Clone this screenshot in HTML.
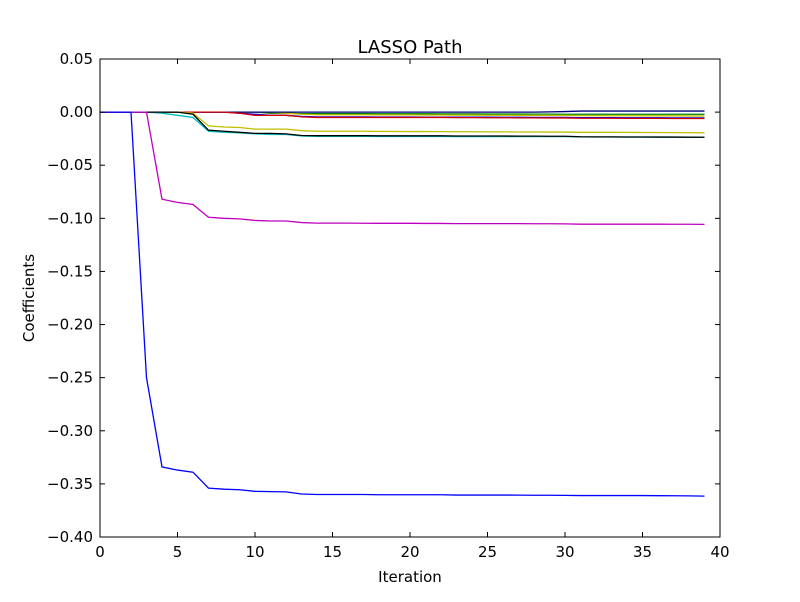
<!DOCTYPE html>
<html><head><meta charset="utf-8"><style>
body{margin:0;background:#fff}
svg text{font-family:"DejaVu Sans","Liberation Sans",sans-serif;font-size:15px;fill:#000}
</style></head><body>
<svg id="c" width="800" height="597">
<rect x="0" y="0" width="800" height="597" fill="#fff"/>
<g id="plot"></g>
</svg>
<script>
const xTicks=[0,5,10,15,20,25,30,35,40];
const yTicks=[0.05,0.00,-0.05,-0.10,-0.15,-0.20,-0.25,-0.30,-0.35,-0.40];
const sBlue=[0,0,0,-0.25,-0.334,-0.337,-0.339,-0.354,-0.355,-0.3555,-0.357,-0.3573,-0.3575,-0.3595,-0.360,-0.360,-0.360,-0.360,-0.3602,-0.3602,-0.3602,-0.3602,-0.3602,-0.3605,-0.3605,-0.3605,-0.3605,-0.3606,-0.3607,-0.3607,-0.3608,-0.361,-0.361,-0.361,-0.361,-0.361,-0.3611,-0.3612,-0.3613,-0.3615];
const sMagenta=[0,0,0,0,-0.082,-0.085,-0.087,-0.099,-0.100,-0.1005,-0.102,-0.1025,-0.1025,-0.104,-0.1045,-0.1045,-0.1045,-0.1046,-0.1047,-0.1047,-0.1047,-0.1048,-0.1048,-0.105,-0.105,-0.105,-0.105,-0.105,-0.1051,-0.1051,-0.1052,-0.1055,-0.1055,-0.1055,-0.1055,-0.1055,-0.1055,-0.1056,-0.1056,-0.1057];
const sYellow=[0,0,0,0,0,0,-0.001,-0.013,-0.014,-0.0145,-0.016,-0.016,-0.016,-0.0175,-0.018,-0.018,-0.018,-0.018,-0.0182,-0.0182,-0.0183,-0.0183,-0.0184,-0.0185,-0.0185,-0.0186,-0.0186,-0.0187,-0.0187,-0.0188,-0.0188,-0.019,-0.019,-0.019,-0.0191,-0.0192,-0.0192,-0.0193,-0.0194,-0.0195];
const sCyan=[0,0,0,0,-0.001,-0.003,-0.005,-0.018,-0.019,-0.0195,-0.0205,-0.021,-0.021,-0.0225,-0.0228,-0.0228,-0.0228,-0.0228,-0.0229,-0.0229,-0.0229,-0.0229,-0.0229,-0.023,-0.023,-0.023,-0.023,-0.023,-0.0231,-0.0231,-0.0231,-0.0233,-0.0234,-0.0234,-0.0235,-0.0235,-0.0235,-0.0236,-0.0236,-0.0237];
const sBlack=[0,0,0,0,0,0,-0.002,-0.017,-0.018,-0.019,-0.020,-0.020,-0.0205,-0.022,-0.0222,-0.0222,-0.0222,-0.0222,-0.0223,-0.0223,-0.0223,-0.0223,-0.0223,-0.0225,-0.0225,-0.0225,-0.0225,-0.0226,-0.0226,-0.0227,-0.0227,-0.0232,-0.0233,-0.0233,-0.0234,-0.0234,-0.0235,-0.0235,-0.0236,-0.0237];
const sRed=[0,0,0,0,0,0,0,0,0,-0.001,-0.003,-0.003,-0.003,-0.0045,-0.005,-0.005,-0.005,-0.005,-0.005,-0.005,-0.005,-0.005,-0.005,-0.0052,-0.0052,-0.0053,-0.0053,-0.0054,-0.0054,-0.0055,-0.0055,-0.0058,-0.0058,-0.0058,-0.0059,-0.0059,-0.0059,-0.006,-0.006,-0.006];
const sBlue2=[0,0,0,0,0,0,0,0,0,-0.001,-0.002,-0.003,-0.003,-0.004,-0.0045,-0.0045,-0.0045,-0.0045,-0.0046,-0.0046,-0.0046,-0.0047,-0.0047,-0.0048,-0.0048,-0.0048,-0.0049,-0.0049,-0.005,-0.005,-0.005,-0.0052,-0.0052,-0.0052,-0.0053,-0.0053,-0.0053,-0.0054,-0.0054,-0.0055];
const sGreen=[0,0,0,0,0,0,0,0,0,0,0,-0.001,-0.001,-0.0015,-0.0015,-0.0015,-0.0015,-0.0015,-0.0016,-0.0016,-0.0016,-0.0016,-0.0017,-0.0017,-0.0017,-0.0018,-0.0018,-0.0018,-0.0019,-0.0019,-0.002,-0.002,-0.002,-0.002,-0.002,-0.002,-0.002,-0.002,-0.002,-0.002];
const sOlive=[0,0,0,0,0,0,0,0,0,0,0,0,-0.001,-0.002,-0.0025,-0.0025,-0.0025,-0.0025,-0.0026,-0.0026,-0.0026,-0.0027,-0.0027,-0.0028,-0.0028,-0.0029,-0.0029,-0.003,-0.003,-0.0031,-0.0031,-0.0033,-0.0033,-0.0034,-0.0034,-0.0035,-0.0035,-0.0035,-0.0036,-0.0036];
const sNavy=[0,0,0,0,0,0,0,0,0,0,0,0,0,0,0,0,0,0,0,0,0,0,0,0,0,0,0,0,0,0.0002,0.0005,0.001,0.001,0.001,0.001,0.001,0.001,0.001,0.001,0.001];
const series=[[sGreen,'#008000'],[sOlive,'#bfbf00'],[sNavy,'#000080'],[sBlue2,'#0000ff'],[sRed,'#d00000'],[sYellow,'#bfbf00'],[sCyan,'#00bfbf'],[sBlack,'#000000'],[sMagenta,'#bf00bf'],[sBlue,'#0000ff']];
const L=100,R=720,T=59,B=537;
const X=v=>L+(v-0)/(40-0)*(R-L);
const Y=v=>T+(0.05-v)/(0.05+0.40)*(B-T);
const ns='http://www.w3.org/2000/svg';
const g=document.getElementById('plot');
function mk(t,a){const e=document.createElementNS(ns,t);for(const k in a)e.setAttribute(k,a[k]);g.appendChild(e);return e;}
series.forEach((s,i)=>{
 const p=mk('polyline',{points:s[0].map((v,j)=>X(j)+','+Y(v)).join(' '),fill:'none',stroke:s[1],'stroke-width':1.3});
 
 
});
const fr=mk('rect',{x:L,y:T,width:R-L,height:B-T,fill:'none',stroke:'#000','stroke-width':1});


xTicks.forEach(v=>{
 mk('line',{x1:X(v),x2:X(v),y1:B,y2:B-5,stroke:'#000'});
 mk('line',{x1:X(v),x2:X(v),y1:T,y2:T+5,stroke:'#000'});
 const t=mk('text',{x:X(v),y:B+20,'text-anchor':'middle'});t.textContent=v;
 
 
});
yTicks.forEach(v=>{
 mk('line',{x1:L,x2:L+5,y1:Y(v),y2:Y(v),stroke:'#000'});
 mk('line',{x1:R,x2:R-5,y1:Y(v),y2:Y(v),stroke:'#000'});
 const t=mk('text',{x:L-7,y:Y(v)+5,'text-anchor':'end'});t.textContent=v.toFixed(2).replace('-','\u2212');
 
 
});
let t=mk('text',{x:410,y:53,'text-anchor':'middle',style:'font-size:18px'});t.textContent='LASSO Path';


t=mk('text',{x:410,y:582,'text-anchor':'middle'});t.textContent='Iteration';


t=mk('text',{x:34,y:298,'text-anchor':'middle',transform:'rotate(-90 34 298)'});t.textContent='Coefficients';


</script>
</body></html>
